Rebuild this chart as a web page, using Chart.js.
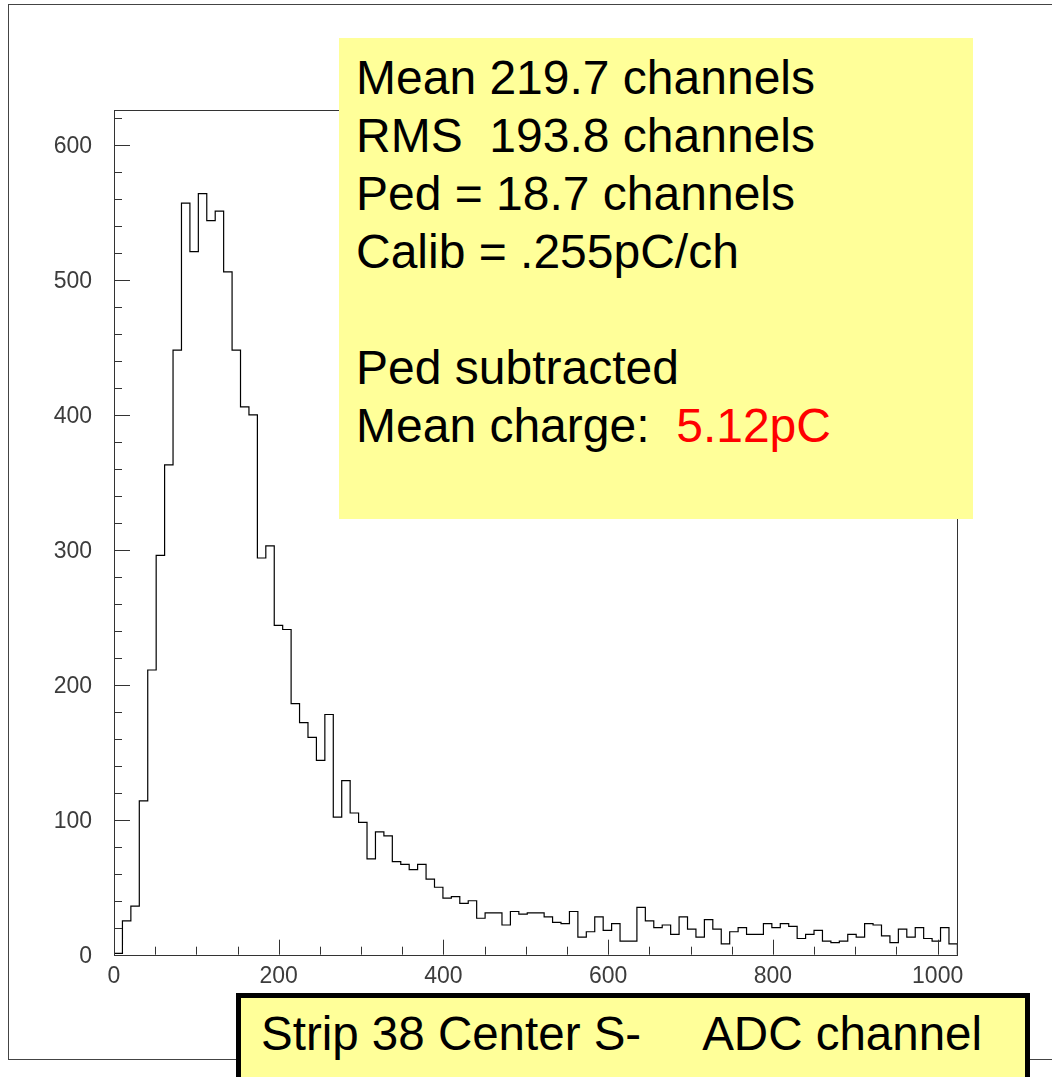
<!DOCTYPE html>
<html>
<head>
<meta charset="utf-8">
<script src="https://cdn.jsdelivr.net/npm/chart.js@4.4.1/dist/chart.umd.min.js"></script>
<style>
  html, body { margin: 0; padding: 0; background: #fff; overflow: hidden; }
  #wrap { position: relative; width: 1052px; height: 1077px; overflow: hidden; }
  #histo { position: absolute; left: 0; top: 0; }
  #frame { position: absolute; left: 8px; top: 4px; width: 1100px; height: 1054px; border: 1.5px solid #444; }
  #stats {
    position: absolute; left: 339px; top: 38px; width: 634px; height: 481px;
    background: #ffff99; box-sizing: border-box; padding: 11px 0 0 17px;
    font-family: "Liberation Sans", Arial, sans-serif; font-size: 48px; line-height: 58px;
    white-space: pre; color: #000;
  }
  #stats .red { color: #ff0000; }
  #title {
    position: absolute; left: 236px; top: 993px; width: 794px; height: 110px;
    background: #ffff99; border: 5px solid #000; box-sizing: border-box; padding: 10px 0 0 20px;
    font-family: "Liberation Sans", Arial, sans-serif; font-size: 47.5px; line-height: 52px;
    white-space: pre; color: #000;
  }
  #title .unit { margin-left: -5px; }
</style>
</head>
<body>
<div id="wrap">
  <div id="frame"></div>
  <canvas id="histo" width="1052" height="1077"></canvas>
  <div id="stats">Mean 219.7 channels
RMS  193.8 channels
Ped = 18.7 channels
Calib = .255pC/ch

Ped subtracted
Mean charge:  <span class="red">5.12pC</span></div>
  <div id="title">Strip 38 Center S-     <span class="unit">ADC channel</span></div>
</div>
<script>
// histogram: 100 bins over 0..1024 ADC channels
const xMin = 0;
const xMax = 1024;
const binCounts = [
  1, 25, 36, 114, 211, 296, 363, 448, 557, 521,
  564, 544, 551, 506, 448, 406, 400, 294, 303, 244,
  241, 186, 172, 161, 144, 178, 102, 129, 105, 98,
  71, 91, 88, 69, 67, 63, 67, 56, 50, 42,
  43, 38, 40, 27, 31, 31, 22, 32, 30, 31,
  31, 28, 24, 23, 32, 13, 17, 28, 18, 23,
  10, 10, 35, 25, 20, 22, 15, 28, 19, 13,
  26, 19, 8, 17, 20, 15, 15, 23, 20, 23,
  21, 12, 15, 18, 10, 9, 10, 15, 13, 23,
  22, 14, 9, 19, 13, 20, 12, 10, 20, 8
];
const xTickLabels = [0, 200, 400, 600, 800, 1000];
const yTickLabels = [0, 100, 200, 300, 400, 500, 600];
const yMax = 626;

const binWidth = (xMax - xMin) / binCounts.length;

// step points: left edge of every bin, closed to the baseline at both ends
const points = [{ x: xMin, y: 0 }];
binCounts.forEach((c, i) => points.push({ x: xMin + i * binWidth, y: c }));
points.push({ x: xMax, y: binCounts[binCounts.length - 1] });
points.push({ x: xMax, y: 0 });

const tickFont = { family: "'Liberation Sans', Arial, sans-serif", size: 23 };

// frame + inward ticks like the original plot
const framePlugin = {
  id: "frame",
  afterDraw(chart) {
    const ctx = chart.ctx;
    const a = chart.chartArea;
    const xs = chart.scales.x;
    const ys = chart.scales.y;
    ctx.save();
    ctx.strokeStyle = "#333";
    ctx.lineWidth = 1;
    ctx.strokeRect(Math.round(a.left) + 0.5, Math.round(a.top) + 0.5,
      Math.round(a.right - a.left), Math.round(a.bottom - a.top));

    ctx.beginPath();
    for (let v = 0; v <= xMax; v += 50) {
      const px = Math.round(xs.getPixelForValue(v)) + 0.5;
      const len = v % 200 === 0 ? 15 : 8;
      ctx.moveTo(px, a.bottom);
      ctx.lineTo(px, a.bottom - len);
    }
    for (let v = 0; v <= yMax; v += 20) {
      const py = Math.round(ys.getPixelForValue(v)) + 0.5;
      const len = v % 100 === 0 ? 16 : 8;
      ctx.moveTo(a.left, py);
      ctx.lineTo(a.left + len, py);
    }
    ctx.stroke();
    ctx.restore();
  }
};

new Chart(document.getElementById("histo").getContext("2d"), {
  type: "line",
  data: {
    datasets: [{
      label: "ADC channel",
      data: points,
      stepped: "before",
      borderColor: "#000",
      borderWidth: 1.2,
      pointRadius: 0,
      fill: false,
      tension: 0
    }]
  },
  options: {
    responsive: false,
    animation: false,
    devicePixelRatio: 1,
    layout: { padding: { top: 110, right: 94.6, left: 0, bottom: 0 } },
    plugins: { legend: { display: false }, tooltip: { enabled: false } },
    scales: {
      x: {
        type: "linear",
        min: xMin,
        max: xMax,
        grid: { display: false, drawTicks: false },
        border: { display: false },
        afterBuildTicks: s => { s.ticks = xTickLabels.map(v => ({ value: v })); },
        afterFit: s => { s.height = 122.3; },
        ticks: { font: tickFont, color: "#3c3c3c", padding: 8, maxRotation: 0, autoSkip: false,
                 callback: v => String(v) }
      },
      y: {
        type: "linear",
        min: 0,
        max: yMax,
        grid: { display: false, drawTicks: false },
        border: { display: false },
        afterBuildTicks: s => { s.ticks = yTickLabels.map(v => ({ value: v })); },
        afterFit: s => { s.width = 114; },
        ticks: { font: tickFont, color: "#3c3c3c", padding: 22, autoSkip: false, labelOffset: 2,
                 callback: v => String(v) }
      }
    }
  },
  plugins: [framePlugin]
});
</script>
</body>
</html>
